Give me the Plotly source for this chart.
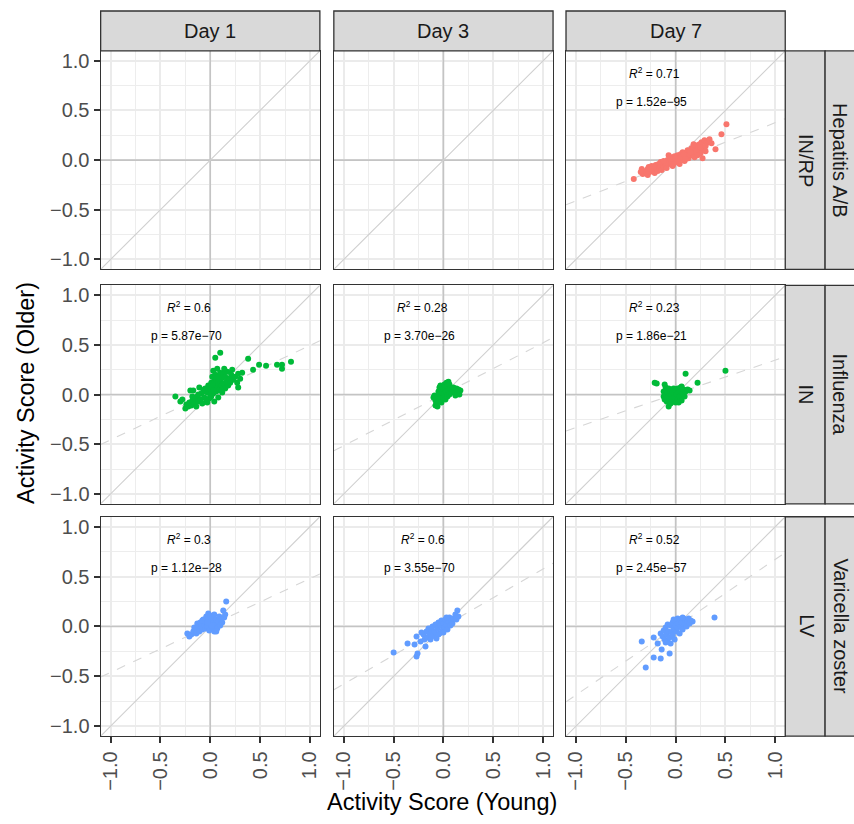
import plotly.graph_objects as go

W, H = 854, 824
AXIS_RANGE = [-1.1, 1.1]
TICK_VALS = [-1.0, -0.5, 0.0, 0.5, 1.0]
TICK_TEXT = ["\u22121.0", "\u22120.5", "0.0", "0.5", "1.0"]
DAYS = ["Day 1", "Day 3", "Day 7"]
VACCINES = ["Hepatitis A/B", "Influenza", "Varicella zoster"]
ROUTES = ["IN/RP", "IN", "LV"]
ROW_COLORS = ["#F8766D", "#00BA38", "#619CFF"]

HEP_D7 = [(-0.42,-0.19),(-0.34,-0.09),(-0.33,-0.14),(-0.30,-0.11),(-0.28,-0.15),(-0.27,-0.07),(-0.26,-0.12),
          (-0.24,-0.06),(-0.23,-0.10),(-0.21,-0.13),(-0.20,-0.05),(-0.19,-0.09),(-0.18,-0.11),(-0.17,-0.04),
          (-0.16,-0.08),(-0.15,-0.06),(-0.14,-0.10),(-0.13,-0.03),(-0.12,-0.07),(-0.11,-0.02),(-0.10,-0.05),
          (-0.09,-0.08),(-0.08,0.00),(-0.07,-0.04),(-0.06,0.02),(-0.05,-0.03),(-0.04,0.03),(-0.03,-0.06),
          (-0.02,0.01),(-0.01,0.04),(0.00,0.00),(0.01,-0.02),(0.02,0.05),(0.03,0.02),(0.04,-0.04),(0.05,0.06),
          (0.06,0.01),(0.07,0.08),(0.08,0.03),(0.09,-0.01),(0.10,0.07),(0.11,0.04),(0.12,0.10),(0.13,0.02),
          (0.14,0.09),(0.15,0.05),(0.16,0.12),(0.17,0.06),(0.18,0.11),(0.19,0.03),(0.20,0.14),(0.21,0.08),
          (0.22,0.15),(0.23,0.10),(0.24,0.16),(0.25,0.07),(0.26,0.18),(0.27,0.12),(0.29,0.20),(0.31,0.17),
          (0.33,0.19),(0.34,0.21),(0.27,0.02),(0.40,0.11),(0.46,0.26),(0.51,0.36),(-0.15,-0.02),(-0.05,0.01),
          (0.05,0.03),(0.12,0.05),(0.20,0.09),(-0.10,-0.03),(0.00,0.02),(0.08,0.06),(0.15,0.08),(-0.22,-0.07),
          (0.25,0.13),(-0.07,0.05),(0.02,-0.01),(0.18,0.16),(-0.28,-0.09),(0.30,0.14),(-0.35,-0.12),
          (-0.25,-0.09),(-0.12,-0.01),(0.10,0.01),(0.22,0.05),(0.30,0.09),(0.36,0.17),(-0.02,-0.04)]

FLU_D1 = [(-0.35,-0.02),(-0.30,-0.07),(-0.28,-0.05),(-0.25,-0.14),(-0.24,-0.10),(-0.22,-0.12),(-0.21,-0.08),
          (-0.20,0.04),(-0.19,-0.11),(-0.18,-0.06),(-0.17,0.04),(-0.16,-0.09),(-0.15,-0.04),(-0.14,-0.12),
          (-0.13,-0.02),(-0.12,-0.07),(-0.11,0.07),(-0.10,-0.05),(-0.09,0.01),(-0.08,-0.09),(-0.07,0.03),
          (-0.06,-0.03),(-0.05,0.06),(-0.04,-0.06),(-0.03,0.02),(-0.02,0.09),(-0.01,-0.04),(0.00,0.05),
          (0.01,0.12),(0.01,-0.02),(0.02,0.18),(0.02,0.08),(0.03,0.24),(0.03,0.01),(0.04,0.14),(0.04,-0.07),
          (0.05,0.20),(0.05,0.10),(0.06,0.03),(0.06,0.16),(0.07,0.26),(0.07,0.07),(0.08,0.12),(0.08,-0.03),
          (0.09,0.19),(0.09,0.05),(0.10,0.14),(0.10,0.22),(0.11,0.09),(0.12,0.17),(0.12,0.02),(0.13,0.21),
          (0.14,0.11),(0.15,0.06),(0.15,0.18),(0.16,0.13),(0.17,0.23),(0.18,0.09),(0.19,0.16),(0.20,0.12),
          (0.21,0.20),(0.22,0.25),(0.23,0.15),(0.25,0.18),(0.27,0.12),(0.28,0.07),(0.28,0.21),(0.30,0.16),
          (0.32,0.22),(0.05,0.37),(0.10,0.42),(0.38,0.36),(0.43,0.25),(0.49,0.30),(0.56,0.29),(0.67,0.30),
          (0.72,0.26),(0.72,0.30),(0.81,0.33),(-0.06,0.05),(-0.12,0.00),(0.00,0.00),(0.03,0.04),(-0.03,-0.08),
          (0.11,0.04),(-0.18,-0.02),(0.08,0.16),(0.14,0.26)]

FLU_D3 = [(-0.10,-0.03),(-0.09,-0.01),(-0.08,-0.11),(-0.08,-0.06),(-0.07,-0.09),(-0.06,-0.02),(-0.05,0.03),
          (-0.05,-0.07),(-0.04,0.07),(-0.04,0.00),(-0.03,0.09),(-0.03,-0.04),(-0.02,0.05),(-0.02,-0.08),
          (-0.01,0.02),(0.00,0.07),(0.00,-0.03),(0.01,0.10),(0.01,0.01),(0.02,-0.05),(0.02,0.05),(0.03,0.12),
          (0.03,0.03),(0.04,0.08),(0.04,-0.02),(0.05,0.13),(0.05,0.04),(0.06,0.10),(0.06,0.00),(0.07,0.06),
          (0.08,0.02),(0.09,0.05),(0.10,0.07),(0.11,0.03),(0.12,-0.01),(0.13,0.06),(0.14,0.02),(0.15,0.05),
          (0.17,0.04),(0.16,0.00),(-0.06,-0.12)]

FLU_D7 = [(-0.21,0.12),(-0.19,0.11),(-0.11,0.10),(-0.10,0.07),(0.10,0.21),(0.22,0.12),(0.50,0.24),
          (-0.12,0.03),(-0.12,-0.02),(-0.11,-0.05),(-0.10,0.00),(-0.09,0.04),(-0.09,-0.07),(-0.08,0.02),
          (-0.08,-0.03),(-0.07,-0.12),(-0.07,0.06),(-0.06,-0.01),(-0.06,-0.06),(-0.05,0.03),(-0.05,-0.09),
          (-0.04,0.00),(-0.04,0.05),(-0.03,-0.04),(-0.03,0.02),(-0.02,-0.07),(-0.02,0.06),(-0.01,0.01),
          (-0.01,-0.03),(0.00,0.04),(0.00,-0.08),(0.01,0.00),(0.02,0.06),(0.02,-0.05),(0.03,0.02),(0.04,-0.02),
          (0.05,0.07),(0.05,0.03),(0.06,-0.06),(0.07,0.01),(0.08,0.05),(0.09,-0.02),(0.10,0.03),(0.12,0.05),
          (0.14,0.04),(0.03,-0.08),(-0.10,-0.04),(0.06,0.08)]

VZV_D1 = [(-0.23,-0.07),(-0.21,-0.10),(-0.19,-0.08),(-0.17,-0.05),(-0.15,-0.03),(-0.14,-0.07),(-0.13,0.03),
          (-0.12,-0.01),(-0.11,-0.05),(-0.10,0.04),(-0.09,0.01),(-0.08,-0.03),(-0.07,0.07),(-0.06,0.02),
          (-0.05,-0.02),(-0.04,0.10),(-0.04,0.05),(-0.03,0.00),(-0.02,0.13),(-0.02,0.08),(-0.01,-0.04),
          (0.00,0.03),(0.00,0.11),(0.01,0.06),(0.02,-0.01),(0.02,0.09),(0.03,0.04),(0.04,-0.05),(0.04,0.12),
          (0.05,0.02),(0.06,0.07),(0.07,-0.02),(0.08,0.05),(0.09,0.10),(0.10,0.01),(0.11,0.07),(0.12,0.04),
          (0.13,0.16),(0.14,0.09),(0.15,0.12),(0.16,0.25),(0.06,-0.05),(-0.08,0.06),(-0.16,-0.01),(0.01,0.01),
          (-0.03,0.04)]

VZV_D3 = [(-0.50,-0.26),(-0.36,-0.17),(-0.29,-0.18),(-0.27,-0.10),(-0.27,-0.30),(-0.26,-0.27),(-0.23,-0.15),
          (-0.20,-0.08),(-0.19,-0.13),(-0.18,-0.20),(-0.17,-0.05),(-0.16,-0.11),(-0.15,-0.02),(-0.14,-0.08),
          (-0.13,-0.13),(-0.12,-0.04),(-0.11,0.00),(-0.10,-0.09),(-0.09,-0.05),(-0.08,0.02),(-0.07,-0.12),
          (-0.06,-0.02),(-0.05,0.04),(-0.04,-0.07),(-0.03,0.01),(-0.02,0.06),(-0.01,-0.04),(0.00,0.03),
          (0.01,-0.01),(0.02,0.07),(0.03,0.02),(0.04,-0.03),(0.05,0.05),(0.06,0.09),(0.07,0.01),(0.08,0.06),
          (0.09,0.03),(0.10,0.08),(0.12,0.12),(0.13,0.07),(0.14,0.16),(0.15,0.10),(-0.22,-0.06),(-0.12,-0.10),
          (0.00,-0.06),(-0.05,-0.08),(0.03,0.09)]

VZV_D7 = [(-0.34,-0.15),(-0.30,-0.41),(-0.22,-0.31),(-0.15,-0.32),(-0.06,-0.27),(-0.14,-0.23),(-0.22,-0.11),
          (-0.18,-0.17),(0.39,0.09),(0.17,0.05),(-0.15,-0.07),(-0.13,-0.10),(-0.12,-0.04),(-0.11,-0.13),
          (-0.10,-0.01),(-0.09,-0.08),(-0.08,-0.15),(-0.08,0.02),(-0.07,-0.05),(-0.06,-0.11),(-0.05,0.01),
          (-0.05,-0.17),(-0.04,-0.06),(-0.03,0.04),(-0.03,-0.09),(-0.02,-0.02),(-0.01,-0.13),(-0.01,0.06),
          (0.00,0.01),(0.01,-0.05),(0.02,0.08),(0.02,-0.01),(0.03,0.03),(0.04,-0.07),(0.05,0.07),(0.05,0.00),
          (0.06,0.04),(0.07,-0.03),(0.08,0.08),(0.09,0.02),(0.10,0.06),(0.11,0.00),(0.12,0.05),(0.13,0.08),
          (0.14,0.03),(0.15,0.06),(-0.10,-0.16),(-0.02,0.07),(0.07,0.09)]

# (row, col) -> data
PANEL_POINTS = {(0, 2): HEP_D7, (1, 0): FLU_D1, (1, 1): FLU_D3, (1, 2): FLU_D7,
                (2, 0): VZV_D1, (2, 1): VZV_D3, (2, 2): VZV_D7}
FIT_SLOPE = {(0, 2): 0.394, (1, 0): 0.475, (1, 1): 0.518, (1, 2): 0.34,
             (2, 0): 0.47, (2, 1): 0.576, (2, 2): 0.68}
FIT_INTERCEPT = {(0, 2): -0.017, (1, 0): 0.019, (1, 1): 0.003, (1, 2): 0.007,
                 (2, 0): 0.01, (2, 1): 0.0, (2, 2): -0.007}
R2_TEXT = {(0, 2): "0.71", (1, 0): "0.6", (1, 1): "0.28", (1, 2): "0.23",
           (2, 0): "0.3", (2, 1): "0.6", (2, 2): "0.52"}
P_TEXT = {(0, 2): "1.52e\u221295", (1, 0): "5.87e\u221270", (1, 1): "3.70e\u221226", (1, 2): "1.86e\u221221",
          (2, 0): "1.12e\u221228", (2, 1): "3.55e\u221270", (2, 2): "2.45e\u221257"}
LABEL_X_R2 = -0.21
LABEL_X_P = -0.24
LABEL_Y_R2 = 0.88
LABEL_Y_P = 0.59

# ---- layout geometry (pixels) ----
COL_PX = [(99, 319), (333, 553), (566, 786)]
ROW_PX = [(50, 269), (285, 504), (517, 737)]
STRIP_TOP = (10, 50)
STRIP_IN = (786, 826)
STRIP_OUT = (826, 862)

FONT = "Liberation Sans, Arial, Helvetica, sans-serif"


def px(xp):
    return xp / W


def py(yp):
    return 1 - yp / H


fig = go.Figure()
layout = dict(width=W, height=H, margin=dict(l=0, r=0, t=0, b=0),
              paper_bgcolor="white", plot_bgcolor="white", showlegend=False,
              font=dict(family=FONT), shapes=[], annotations=[])

for r in range(3):
    for c in range(3):
        i = r * 3 + c + 1
        xa = "x" if i == 1 else f"x{i}"
        ya = "y" if i == 1 else f"y{i}"
        xk = "xaxis" if i == 1 else f"xaxis{i}"
        yk = "yaxis" if i == 1 else f"yaxis{i}"
        common = dict(range=AXIS_RANGE, tickvals=TICK_VALS, ticktext=TICK_TEXT,
                      showgrid=True, gridcolor="#EBEBEB", gridwidth=1.6,
                      minor=dict(tickvals=[-0.75, -0.25, 0.25, 0.75], showgrid=True,
                                 gridcolor="#EDEDED", gridwidth=1.1, ticks=""),
                      zeroline=False, showline=True, mirror=True, linecolor="#333333",
                      linewidth=1.3, tickfont=dict(size=20, color="#4D4D4D", family=FONT),
                      ticklen=6, tickwidth=1.5, tickcolor="#333333", fixedrange=True)
        layout[xk] = dict(common, domain=[px(COL_PX[c][0]), px(COL_PX[c][1])], anchor=ya,
                          showticklabels=(r == 2), ticks="outside" if r == 2 else "",
                          tickangle=-90)
        layout[yk] = dict(common, domain=[py(ROW_PX[r][1]), py(ROW_PX[r][0])], anchor=xa,
                          showticklabels=(c == 0), ticks="outside" if c == 0 else "")

        # zero reference lines
        fig.add_trace(go.Scatter(x=AXIS_RANGE, y=[0, 0], mode="lines", xaxis=xa, yaxis=ya,
                                 line=dict(color="#C4C4C4", width=1.6), hoverinfo="skip"))
        fig.add_trace(go.Scatter(x=[0, 0], y=AXIS_RANGE, mode="lines", xaxis=xa, yaxis=ya,
                                 line=dict(color="#C4C4C4", width=1.6), hoverinfo="skip"))
        # identity line
        fig.add_trace(go.Scatter(x=AXIS_RANGE, y=AXIS_RANGE, mode="lines", xaxis=xa, yaxis=ya,
                                 line=dict(color="#CFCFCF", width=1.1), hoverinfo="skip"))

        key = (r, c)
        if key in PANEL_POINTS:
            s, b = FIT_SLOPE[key], FIT_INTERCEPT[key]
            fig.add_trace(go.Scatter(x=AXIS_RANGE, y=[s * v + b for v in AXIS_RANGE], mode="lines",
                                     xaxis=xa, yaxis=ya,
                                     line=dict(color="#D6D6D6", width=1.1, dash="dash"),
                                     hoverinfo="skip"))
            pts = PANEL_POINTS[key]
            fig.add_trace(go.Scatter(x=[p[0] for p in pts], y=[p[1] for p in pts], mode="markers",
                                     xaxis=xa, yaxis=ya,
                                     marker=dict(color=ROW_COLORS[r], size=6, line=dict(width=0))))
            layout["annotations"].append(dict(x=LABEL_X_R2, y=LABEL_Y_R2, xref=xa, yref=ya,
                                              xanchor="center", yanchor="middle",
                                              text=f"<i>R</i><sup>2</sup> = {R2_TEXT[key]}",
                                              showarrow=False, font=dict(size=12, color="black")))
            layout["annotations"].append(dict(x=LABEL_X_P, y=LABEL_Y_P, xref=xa, yref=ya,
                                              xanchor="center", yanchor="middle",
                                              text=f"p = {P_TEXT[key]}",
                                              showarrow=False, font=dict(size=12, color="black")))

# strips on top
for c in range(3):
    layout["shapes"].append(dict(type="rect", xref="paper", yref="paper",
                                 x0=px(COL_PX[c][0]), x1=px(COL_PX[c][1]),
                                 y0=py(STRIP_TOP[1]), y1=py(STRIP_TOP[0]),
                                 fillcolor="#D9D9D9", line=dict(color="#333333", width=1.3)))
    layout["annotations"].append(dict(x=px((COL_PX[c][0] + COL_PX[c][1]) / 2),
                                      y=py((STRIP_TOP[0] + STRIP_TOP[1]) / 2),
                                      xref="paper", yref="paper", text=DAYS[c], showarrow=False,
                                      xanchor="center", yanchor="middle",
                                      font=dict(size=20, color="#1A1A1A")))
# strips on right
for r in range(3):
    for (x0, x1), label in ((STRIP_IN, ROUTES[r]), (STRIP_OUT, VACCINES[r])):
        layout["shapes"].append(dict(type="rect", xref="paper", yref="paper",
                                     x0=px(x0), x1=px(x1), y0=py(ROW_PX[r][1]), y1=py(ROW_PX[r][0]),
                                     fillcolor="#D9D9D9", line=dict(color="#333333", width=1.3)))
        cx = (x0 + min(x1, 854)) / 2
        layout["annotations"].append(dict(x=px(cx + 1), y=py((ROW_PX[r][0] + ROW_PX[r][1]) / 2),
                                          xref="paper", yref="paper", text=label, showarrow=False,
                                          xanchor="center", yanchor="middle",
                                          textangle=90, font=dict(size=20, color="#1A1A1A")))

# axis titles
layout["annotations"].append(dict(x=px(442), y=py(803), xref="paper", yref="paper",
                                  xanchor="center", yanchor="middle",
                                  text="Activity Score (Young)", showarrow=False,
                                  font=dict(size=23.5, color="black")))
layout["annotations"].append(dict(x=px(24), y=py(393), xref="paper", yref="paper",
                                  xanchor="center", yanchor="middle",
                                  text="Activity Score (Older)", showarrow=False, textangle=-90,
                                  font=dict(size=23.5, color="black")))

fig.update_layout(**layout)
fig.write_html("out.html", config={"displayModeBar": False},
               post_script="document.body.style.margin='0';")
